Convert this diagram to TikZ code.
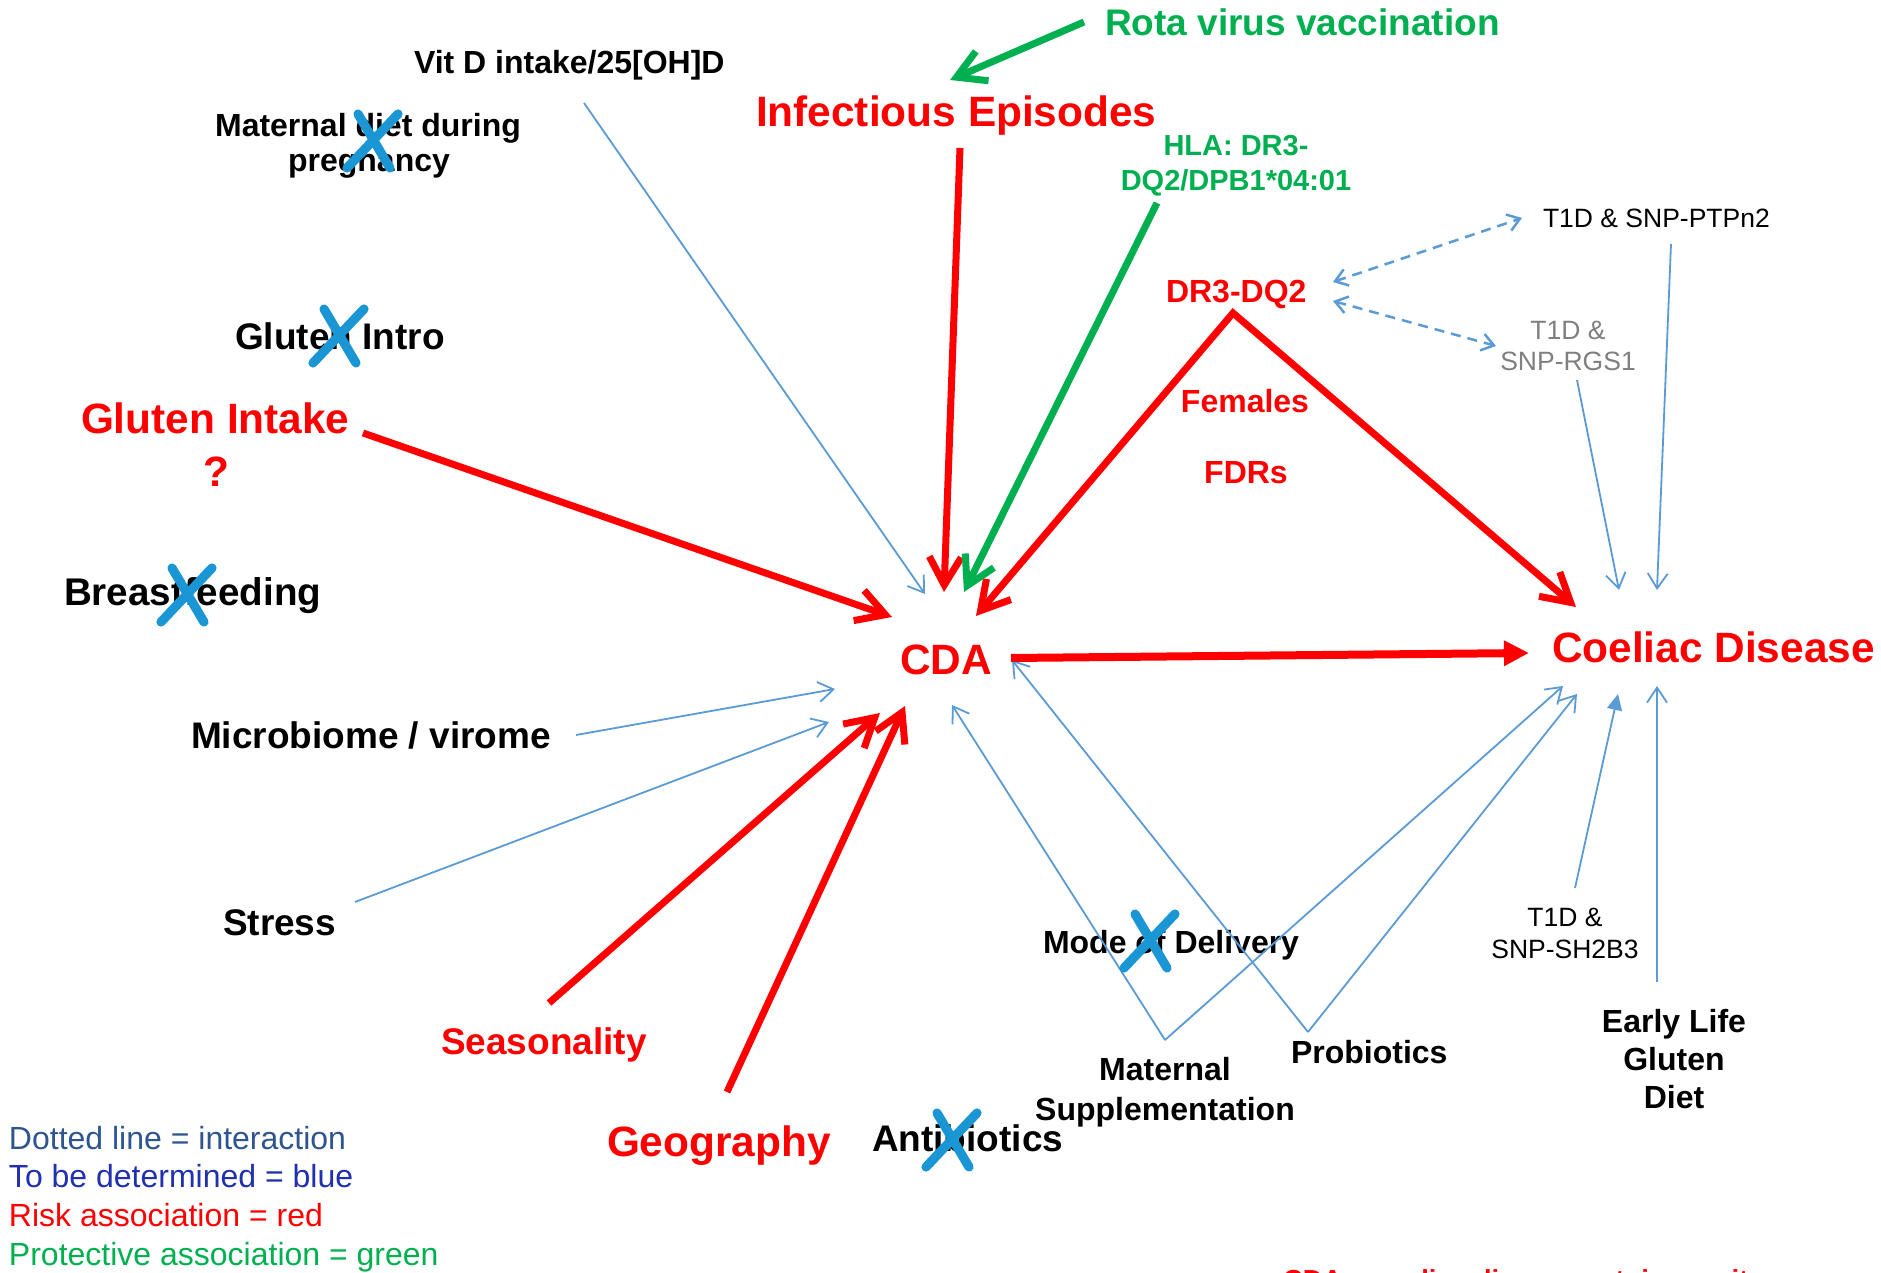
\documentclass[tikz,border=0pt]{standalone}
\usepackage{fontspec}
\setmainfont{Liberation Sans}
\usetikzlibrary{arrows.meta}
\definecolor{cred}{HTML}{FF0000}
\definecolor{cgreen}{HTML}{00B050}
\definecolor{cblue}{HTML}{5B9BD5}
\definecolor{cx}{HTML}{1A96D4}
\definecolor{cgray}{HTML}{7F7F7F}
\definecolor{cslate}{HTML}{2F5590}
\definecolor{cdblue}{HTML}{2030B0}
\begin{document}
\begin{tikzpicture}[x=0.5pt,y=-0.5pt,
  lbl/.style={inner sep=0pt, outer sep=0pt},
  fXL/.style={font=\bfseries\fontsize{21.2}{25}\selectfont},
  fL/.style={font=\bfseries\fontsize{18.5}{22}\selectfont},
  fM/.style={font=\bfseries\fontsize{16}{19}\selectfont},
  fH/.style={font=\bfseries\fontsize{14.5}{17}\selectfont},
  fS/.style={font=\fontsize{13.25}{16}\selectfont},
  fLeg/.style={font=\fontsize{16}{19}\selectfont},
  thickarrow/.style={line width=3.5pt, -{Straight Barb[length=14pt,width=16pt]}},
  thinarrow/.style={draw=cblue, line width=0.9pt, -{Straight Barb[length=7.5pt,width=10pt]}},
  dasharrow/.style={draw=cblue, line width=1.25pt, dash pattern=on 5pt off 3.5pt,
     {Straight Barb[length=6pt,width=8.5pt]}-{Straight Barb[length=6pt,width=8.5pt]}},
  xmark/.pic={\draw[cx, line width=4.6pt, line cap=round] (25,-27) -- (-26,27) (-15,-27) -- (17,27);}
]
\useasboundingbox (0,0) rectangle (1881,1273);
\fill[white] (0,0) rectangle (1881,1273);

% ---------- texts ----------
\node[lbl,fM,anchor=base west] (vitd) at (414,74) {Vit D intake/25[OH]D};
\node[lbl,fM,anchor=base] (matdiet1) at (368,137) {Maternal diet during};
\node[lbl,fM,anchor=base] (matdiet2) at (369,172) {pregnancy};
\node[lbl,fXL,text=cred,anchor=base west] (inf) at (756,127) {Infectious Episodes};
\node[lbl,fL,text=cgreen,anchor=base west] (rota) at (1105,36) {Rota virus vaccination};
\node[lbl,fH,text=cgreen,anchor=base] (hla1) at (1236,156) {HLA: DR3-};
\node[lbl,fH,text=cgreen,anchor=base] (hla2) at (1236,191) {DQ2/DPB1*04:01};
\node[lbl,fS,anchor=base west] (ptpn) at (1543,228) {T1D \& SNP-PTPn2};
\node[lbl,fM,text=cred,anchor=base west] (dr3) at (1166,303) {DR3-DQ2};
\node[lbl,fS,text=cgray,anchor=base] (rgs1a) at (1568,340) {T1D \&};
\node[lbl,fS,text=cgray,anchor=base] (rgs1b) at (1568,371) {SNP-RGS1};
\node[lbl,fL,anchor=base west] (gintro) at (235,350) {Gluten Intro};
\node[lbl,fXL,text=cred,anchor=base west] (gintake) at (81,434) {Gluten Intake};
\node[lbl,fXL,text=cred,anchor=base] (qmark) at (216,487) {?};
\node[lbl,fM,text=cred,anchor=base] (fem) at (1245,413) {Females};
\node[lbl,fM,text=cred,anchor=base] (fdr) at (1246,483) {FDRs};
\node[lbl,font=\bfseries\fontsize{19.3}{23}\selectfont,anchor=base west] (breast) at (64,605) {Breastfeeding};
\node[lbl,fXL,text=cred,anchor=base west] (cda) at (900,674) {CDA};
\node[lbl,fXL,text=cred,anchor=base west] (cd) at (1552,662) {Coeliac Disease};
\node[lbl,fL,anchor=base west] (micro) at (191,748) {Microbiome / virome};
\node[lbl,fL,anchor=base west] (stress) at (223,935) {Stress};
\node[lbl,fM,anchor=base west] (mode) at (1043,953) {Mode of Delivery};
\node[lbl,fS,anchor=base] (sh1) at (1565,926) {T1D \&};
\node[lbl,fS,anchor=base] (sh2) at (1565,958) {SNP-SH2B3};
\node[lbl,fM,anchor=base] (early1) at (1674,1032) {Early Life};
\node[lbl,fM,anchor=base] (early2) at (1674,1070) {Gluten};
\node[lbl,fM,anchor=base] (early3) at (1674,1108) {Diet};
\node[lbl,fL,text=cred,anchor=base west] (season) at (441,1054) {Seasonality};
\node[lbl,fM,anchor=base] (msup1) at (1165,1080) {Maternal};
\node[lbl,fM,anchor=base] (msup2) at (1165,1120) {Supplementation};
\node[lbl,fM,anchor=base west] (probio) at (1291,1063) {Probiotics};
\node[lbl,fXL,text=cred,anchor=base west] (geo) at (607,1156) {Geography};
\node[lbl,fL,anchor=base west] (anti) at (872,1151) {Antibiotics};
\node[lbl,fLeg,text=cslate,anchor=base west] (leg1) at (9,1149) {Dotted line = interaction};
\node[lbl,fLeg,text=cdblue,anchor=base west] (leg2) at (9,1187.5) {To be determined = blue};
\node[lbl,fLeg,text=cred,anchor=base west] (leg3) at (9,1226.5) {Risk association = red};
\node[lbl,fLeg,text=cgreen,anchor=base west] (leg4) at (9,1265) {Protective association = green};
\node[lbl,font=\bfseries\fontsize{13.75}{16}\selectfont,text=cred,anchor=base west] (note) at (1283,1289) {CDA = coeliac disease autoimmunity};

% ---------- connector end points ----------
\coordinate (gi0) at (363,433);   \coordinate (gi1) at (892,617);
\coordinate (if0) at (960,148);   \coordinate (if1) at (944,592);
\coordinate (drL) at (976,616);   \coordinate (drA) at (1233,313); \coordinate (drR) at (1576,607);
\coordinate (cc0) at (1011,658);  \coordinate (cc1) at (1529,653);
\coordinate (se0) at (549,1003);  \coordinate (se1) at (880,713);
\coordinate (ge0) at (727,1092);  \coordinate (ge1) at (905,706);
\coordinate (ro0) at (1084,22);   \coordinate (ro1) at (950,80);
\coordinate (hl0) at (1157,203);  \coordinate (hl1) at (964,592);
\coordinate (vd0) at (584,103);   \coordinate (vd1) at (925,594);
\coordinate (mi0) at (576,735);   \coordinate (mi1) at (835,689);
\coordinate (st0) at (355,902);   \coordinate (st1) at (829,722);
\coordinate (msL) at (952,705);   \coordinate (msV) at (1165,1040); \coordinate (msR) at (1563,686);
\coordinate (pbL) at (1012,660);  \coordinate (pbV) at (1308,1032); \coordinate (pbR) at (1577,694);
\coordinate (sh0) at (1575,888);  \coordinate (sh1e) at (1618,694);
\coordinate (el0) at (1657,982);  \coordinate (el1) at (1657,686);
\coordinate (pt0) at (1671,244);  \coordinate (pt1) at (1657,590);
\coordinate (rg0) at (1577,380);  \coordinate (rg1) at (1619,590);
\coordinate (da0) at (1333,282);  \coordinate (da1) at (1522,218);
\coordinate (db0) at (1333,301);  \coordinate (db1) at (1496,346);

% ---------- blue connectors ----------
\draw[thinarrow] (vd0) -- (vd1);
\draw[thinarrow] (mi0) -- (mi1);
\draw[thinarrow] (st0) -- (st1);
\draw[thinarrow] (msV) -- (msL);
\draw[thinarrow] (msV) -- (msR);
\draw[thinarrow] (pbV) -- (pbL);
\draw[thinarrow] (pbV) -- (pbR);
\draw[draw=cblue, line width=0.9pt, -{Triangle[length=8pt,width=7.5pt]}] (sh0) -- (sh1e);
\draw[thinarrow] (el0) -- (el1);
\draw[thinarrow] (pt0) -- (pt1);
\draw[thinarrow] (rg0) -- (rg1);
\draw[dasharrow] (da0) -- (da1);
\draw[dasharrow] (db0) -- (db1);

% ---------- red / green connectors ----------
\draw[thickarrow, draw=cred] (gi0) -- (gi1);
\draw[thickarrow, draw=cred] (if0) -- (if1);
\draw[line width=3.5pt, draw=cred, {Straight Barb[length=14pt,width=16pt]}-{Straight Barb[length=14pt,width=16pt]}] (drL) -- (drA) -- (drR);
\draw[draw=cred, line width=4pt, -{Triangle[length=12.5pt,width=12pt]}] (cc0) -- (cc1);
\draw[thickarrow, draw=cred] (se0) -- (se1);
\draw[thickarrow, draw=cred] (ge0) -- (ge1);
\draw[thickarrow, draw=cgreen] (ro0) -- (ro1);
\draw[thickarrow, draw=cgreen] (hl0) -- (hl1);

% ---------- crosses ----------
\pic at (373,141) {xmark};
\pic at (339,336) {xmark};
\pic at (187,595) {xmark};
\pic at (1150,941) {xmark};
\pic at (952,1140) {xmark};
\end{tikzpicture}
\end{document}
